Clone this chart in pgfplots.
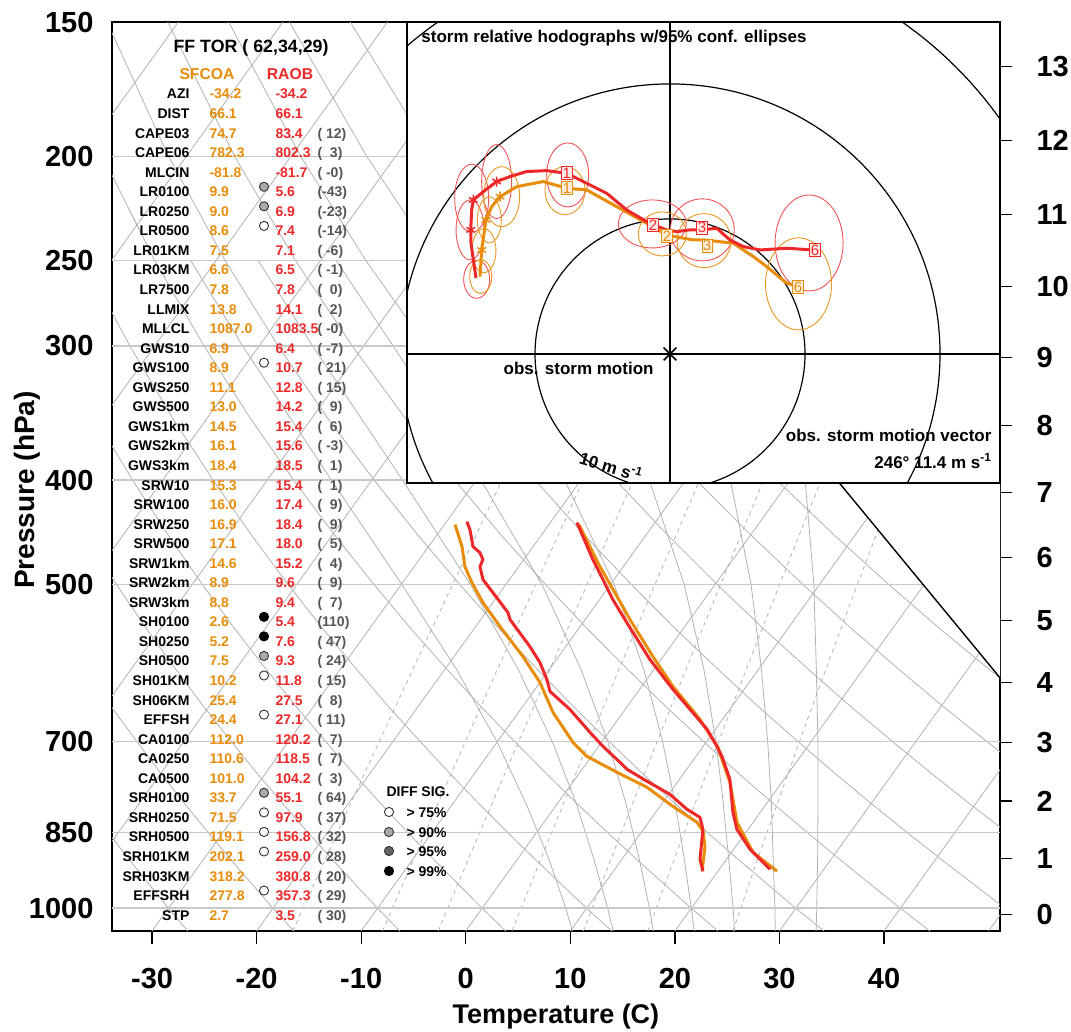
\documentclass[border=0pt]{standalone}
\usepackage{fontspec}
\setmainfont{Liberation Sans}
\usepackage{pgfplots}
\usepackage{pgfplotstable}
\pgfplotsset{compat=1.18}

\definecolor{cor}{RGB}{232,140,10}
\definecolor{cre}{RGB}{238,40,40}
\definecolor{cgr}{RGB}{85,85,85}
\definecolor{glc}{RGB}{178,178,178}
\definecolor{isoc}{RGB}{200,200,200}
\definecolor{g90}{RGB}{170,170,170}
\definecolor{g95}{RGB}{100,100,100}

\newcommand\ticfont{\bfseries\fontsize{29}{29}\selectfont}
\newcommand\labfont{\bfseries\fontsize{27}{27}\selectfont}
\newcommand\tfont{\bfseries\fontsize{14}{14}\selectfont}
\newcommand\hfont{\bfseries\fontsize{17}{17}\selectfont}
\newcommand\nfont{\fontsize{15}{15}\selectfont}

\pgfplotstableread{
p
1050
150
}\ptwo
\pgfplotstableread{
p
1050
1000
950
900
850
800
750
700
650
600
550
500
450
400
350
300
250
200
150
}\plev
\pgfplotstableread{
p
1050
1000
900
800
700
600
500
400
}\pw
\pgfplotstableread{
p    m32   m28   m24    m20    m16    m12    m8
1050 33.5  29.6  25.7   21.85  17.95  14.1   10.2
1000 32    28    24     20     16     12     8
900  28.7  24.45 20.2   15.95  11.65  7.3    3.0
800  24.95 20.5  15.9   11.3   6.6    1.85   -2.95
700  20.65 15.85 10.9   5.8    0.55   -4.75  -10.05
600  15.55 10.3  4.8    -0.95  -6.95  -12.95 -18.85
500  9.45  3.45  -2.95  -9.65  -16.55 -23.4  -29.95
400  1.45  -5.7  -13.45 -21.55 -29.55 -37.05 -43.85
300  -9.9  -19.0 -28.9  -38.5  -47.2  -54.9  -61.6
250  -18.0 -28.7 -39.6  -49.8  -58.5  -65.95 -72.4
}\moist

\pgfplotstableread{
T p
24.85 920.0
21.56 881.4
18.94 844.6
17.39 814.4
14.83 758.9
12.49 722.5
11.33 707.2
9.21 681.9
3.20 626.0
-1.06 587.2
-5.81 542.5
-8.73 516.5
-11.05 494.8
-13.39 474.1
-17.46 438.0
}\raobT
\pgfplotstableread{
T p
25.66 923.9
22.05 887.1
18.46 832.0
15.04 763.8
13.00 731.8
11.49 708.7
7.84 667.5
2.99 622.0
-0.98 583.4
-5.72 539.0
-8.54 513.1
-12.24 481.2
-17.13 439.9
}\sfcT
\pgfplotstableread{
T p
18.58 923.9
17.46 900.5
15.69 844.6
14.58 823.2
12.79 809.2
10.13 783.7
7.04 762.1
4.30 742.8
3.15 731.8
0.43 707.2
-1.78 686.3
-5.28 653.4
-8.42 628.7
-9.54 612.8
-11.38 590.9
-13.43 571.1
-17.19 539.0
-17.87 531.0
-20.68 508.8
-22.53 494.8
-23.71 481.2
-23.91 474.1
-24.67 467.1
-25.75 461.1
-27.21 444.6
-28.05 437.1
}\raobD
\pgfplotstableread{
T p
18.49 923.9
17.05 875.8
15.83 848.2
14.64 832.0
11.24 804.1
7.45 772.0
3.55 747.6
-0.42 722.5
-2.72 701.2
-6.69 657.6
-10.00 616.8
-13.41 583.4
-17.67 547.1
-20.95 519.8
-23.38 498.0
-25.15 481.2
-26.80 461.1
-28.98 439.9
}\sfcD

\newcommand\trow[5]{%
  \node[anchor=base east,yshift=-5pt,font=\tfont] at (axis cs:193,#1) {#2};
  \node[anchor=base west,yshift=-5pt,font=\tfont,text=cor] at (axis cs:206,#1) {#3};
  \node[anchor=base west,yshift=-5pt,font=\tfont,text=cre] at (axis cs:272,#1) {#4};
  \node[anchor=base west,yshift=-5pt,font=\tfont,text=cgr] at (axis cs:314,#1) {#5};
}

\pgfplotsset{
  gl/.style={glc, line width=0.8pt, forget plot},
}

\begin{document}
\begin{tikzpicture}
\useasboundingbox (0pt,0pt) rectangle (1071pt,1032pt);

\begin{axis}[
  at={(112pt,101pt)}, anchor=south west,
  width=888pt, height=909pt, scale only axis,
  xmin=-33.83, xmax=51.09,
  ymode=log, y dir=reverse, ymin=150, ymax=1050,
  xtick={-30,-20,-10,0,10,20,30,40},
  xticklabels={-30,-20,-10,0,10,20,30,40},
  ytick={150,200,250,300,400,500,700,850,1000},
  yticklabels={150,200,250,300,400,500,700,850,1000},
  yminorticks=false, xminorticks=false,
  tick pos=left, tick align=outside,
  major tick length=13pt,
  ytick style={draw=none},
  xtick style={black,line width=1.2pt},
  tick label style={font=\ticfont},
  xticklabel style={yshift=-21pt},
  yticklabel style={xshift=-2pt},
  axis line style={black,line width=1.8pt},
]
\pgfplotsinvokeforeach{-90,-80,...,50}{
  \addplot[gl] table[x expr={#1+32.13*ln(1050/\thisrow{p})}, y=p]{\ptwo};
}
\pgfplotsinvokeforeach{-30,-20,...,170}{
  \addplot[gl] table[x expr={(#1+273.15)*(\thisrow{p}/1000)^0.2857-273.15+32.13*ln(1050/\thisrow{p})}, y=p]{\plev};
}
\pgfplotsinvokeforeach{m8,m12,m16,m20,m24,m28,m32}{
  \addplot[gl] table[x expr={\thisrow{#1}+32.13*ln(1050/\thisrow{p})}, y=p]{\moist};
}
\pgfplotsinvokeforeach{1,2,3,5,8,12,20}{
  \addplot[gl, dash pattern=on 4pt off 4pt] table[x expr={243.5*ln(#1*\thisrow{p}/(622+#1)/6.112)/(17.67-ln(#1*\thisrow{p}/(622+#1)/6.112))+32.13*ln(1050/\thisrow{p})}, y=p]{\pw};
}
\pgfplotsinvokeforeach{1000,850,700,500,400,300,250,200}{
  \addplot[isoc, line width=1.6pt, forget plot] coordinates {(-33.83,#1) (51.09,#1)};
}
\addplot[fill=white, draw=none, forget plot] coordinates {(51.09,610.6) (35.70,402.1) (-0.64,150) (51.09,150) (51.09,610.6)};
\addplot[black, line width=1.4pt, forget plot] coordinates {(51.09,610.6) (35.70,402.1)};
\addplot[cor, line width=3pt, line join=round] table[x expr={\thisrow{T}+32.13*ln(1050/\thisrow{p})}, y=p]{\sfcT};
\addplot[cor, line width=3pt, line join=round] table[x expr={\thisrow{T}+32.13*ln(1050/\thisrow{p})}, y=p]{\sfcD};
\addplot[cre, line width=3pt, line join=round] table[x expr={\thisrow{T}+32.13*ln(1050/\thisrow{p})}, y=p]{\raobT};
\addplot[cre, line width=3pt, line join=round] table[x expr={\thisrow{T}+32.13*ln(1050/\thisrow{p})}, y=p]{\raobD};
\end{axis}

\begin{axis}[
  at={(112pt,101pt)}, anchor=south west,
  width=888pt, height=909pt, scale only axis,
  xmin=0, xmax=1, xtick=\empty,
  ymode=log, y dir=reverse, ymin=150, ymax=1050,
  ytick={1013.25,898.75,794.95,701.09,616.41,540.24,471.82,410.61,355.97,307.42,264.37,226.33,193.31,165.11},
  yticklabels={0,1,2,3,4,5,6,7,8,9,10,11,12,13},
  yminorticks=false,
  ytick pos=right, yticklabel pos=right,
  tick align=outside, major tick length=12pt,
  ytick style={black,line width=1.2pt},
  yticklabel style={font=\ticfont, xshift=21pt},
  axis line style={draw=none},
]
\addplot[draw=none] coordinates {(0.5,500)};
\end{axis}

\begin{axis}[
  at={(407pt,549pt)}, anchor=south west,
  width=593pt, height=461pt, scale only axis,
  xmin=-19.48, xmax=24.44, ymin=-9.56, ymax=24.59,
  axis background/.style={fill=white},
  xtick=\empty, ytick=\empty,
  axis line style={black,line width=1.8pt},
]
\addplot[black, line width=1.2pt] coordinates {(-19.48,0) (24.44,0)};
\addplot[black, line width=1.2pt] coordinates {(0,-9.56) (0,24.59)};
\draw[black, line width=1.2pt] (axis cs:0,0) circle[radius=135pt];
\draw[black, line width=1.2pt] (axis cs:0,0) circle[radius=270pt];
\draw[black, line width=1.2pt] (axis cs:0,0) circle[radius=405pt];
\draw[cre!80, line width=0.9pt] (axis cs:-14.32,5.53) ellipse[x radius=13pt, y radius=19pt];
\draw[cre!80, line width=0.9pt] (axis cs:-14.81,9.19) ellipse[x radius=14pt, y radius=30pt];
\draw[cre!80, line width=0.9pt] (axis cs:-14.69,11.53) ellipse[x radius=17pt, y radius=34pt];
\draw[cre!80, line width=0.9pt] (axis cs:-12.84,12.77) ellipse[x radius=15pt, y radius=37pt];
\draw[cre!80, line width=0.9pt] (axis cs:-7.58,13.26) ellipse[x radius=21pt, y radius=32pt];
\draw[cre!80, line width=0.9pt] (axis cs:-1.31,9.63) ellipse[x radius=34pt, y radius=24pt];
\draw[cre!80, line width=0.9pt] (axis cs:2.39,9.19) ellipse[x radius=32pt, y radius=31pt];
\draw[cre!80, line width=0.9pt] (axis cs:10.30,8.22) ellipse[x radius=34pt, y radius=48pt];
\draw[cor!90, line width=0.9pt] (axis cs:-14.02,5.73) ellipse[x radius=11pt, y radius=17pt];
\draw[cor!90, line width=0.9pt] (axis cs:-13.78,7.65) ellipse[x radius=12pt, y radius=22pt];
\draw[cor!90, line width=0.9pt] (axis cs:-13.38,9.93) ellipse[x radius=12pt, y radius=23pt];
\draw[cor!90, line width=0.9pt] (axis cs:-12.47,11.65) ellipse[x radius=18pt, y radius=30pt];
\draw[cor!90, line width=0.9pt] (axis cs:-7.78,12.10) ellipse[x radius=20pt, y radius=24pt];
\draw[cor!90, line width=0.9pt] (axis cs:-0.57,8.89) ellipse[x radius=24pt, y radius=22pt];
\draw[cor!90, line width=0.9pt] (axis cs:2.52,8.39) ellipse[x radius=27pt, y radius=27pt];
\draw[cor!90, line width=0.9pt] (axis cs:9.52,5.19) ellipse[x radius=33pt, y radius=46pt];
\addplot[cor, line width=3pt, line join=round] coordinates {
(-14.07,5.73) (-13.95,7.70) (-13.63,9.93) (-13.21,10.91) (-12.59,11.65) (-11.36,12.39) (-9.38,12.77) (-7.65,12.27) (-6.17,12.15) (-3.95,10.91) (-1.73,9.68) (-0.25,8.81) (1.73,8.44) (2.59,8.44) (4.69,8.20) (6.17,7.21) (7.16,6.47) (8.64,5.24) (9.51,4.99)};
\addplot[cre, line width=3pt, line join=round] coordinates {
(-14.37,5.61) (-14.74,8.20) (-14.76,9.19) (-14.69,10.67) (-14.57,11.41) (-13.83,12.02) (-12.84,12.77) (-11.85,13.14) (-10.62,13.51) (-9.14,13.58) (-7.65,13.38) (-6.17,12.64) (-4.69,11.90) (-3.21,10.67) (-1.73,9.80) (-1.23,9.56) (-0.25,9.19) (0.49,9.06) (1.48,9.19) (2.35,9.19) (3.46,9.31) (4.44,8.44) (5.43,7.95) (6.67,7.70) (8.64,7.83) (10.62,7.70)};
\addplot[cor, only marks, mark=asterisk, mark size=5pt, mark options={line width=1.5pt}] coordinates {(-13.95,7.70) (-13.63,9.93) (-12.59,11.65)};
\addplot[cre, only marks, mark=asterisk, mark size=5pt, mark options={line width=1.5pt}] coordinates {(-14.76,9.19) (-14.57,11.41) (-12.84,12.77)};
\addplot[black, only marks, mark=x, mark size=9pt, mark options={line width=1.6pt}] coordinates {(0,0)};
\node[draw=cor, fill=cor!15, text=cor, font=\nfont, inner sep=1.2pt] at (axis cs:-7.63,12.30) {1};
\node[draw=cor, fill=cor!15, text=cor, font=\nfont, inner sep=1.2pt] at (axis cs:-0.22,8.74) {2};
\node[draw=cor, fill=cor!15, text=cor, font=\nfont, inner sep=1.2pt] at (axis cs:2.75,8.05) {3};
\node[draw=cor, fill=cor!15, text=cor, font=\nfont, inner sep=1.2pt] at (axis cs:9.48,4.96) {6};
\node[draw=cre, fill=cre!10, text=cre, font=\nfont, inner sep=1.2pt] at (axis cs:-7.65,13.41) {1};
\node[draw=cre, fill=cre!10, text=cre, font=\nfont, inner sep=1.2pt] at (axis cs:-1.26,9.56) {2};
\node[draw=cre, fill=cre!10, text=cre, font=\nfont, inner sep=1.2pt] at (axis cs:2.37,9.35) {3};
\node[draw=cre, fill=cre!10, text=cre, font=\nfont, inner sep=1.2pt] at (axis cs:10.74,7.70) {6};
\node[anchor=west, font=\hfont] at (axis cs:-18.67,23.41) {storm relative hodographs w/95\% conf. ellipses};
\node[anchor=east, font=\hfont] at (axis cs:-0.96,-1.04) {obs. storm motion};
\node[anchor=east, font=\hfont] at (axis cs:24.07,-6.0) {obs. storm motion vector};
\node[anchor=east, font=\hfont] at (axis cs:24.07,-7.93) {246° 11.4 m s\textsuperscript{-1}};
\node[font=\hfont, rotate=-17] at (axis cs:-4.37,-8.30) {10 m s\textsuperscript{-1}};
\end{axis}

\begin{axis}[
  at={(0pt,0pt)}, anchor=south west,
  width=1071pt, height=1032pt, scale only axis,
  xmin=0, xmax=1071, ymin=0, ymax=1032, y dir=reverse,
  hide axis, clip=false,
]
\node[font=\labfont] at (axis cs:556,1017) {Temperature (C)};
\node[font=\bfseries\fontsize{28}{28}\selectfont, rotate=90] at (axis cs:27,490) {Pressure (hPa)};
\node[font=\bfseries\fontsize{17.8}{17.8}\selectfont] at (axis cs:251,48) {FF TOR ( 62,34,29)};
\node[font=\bfseries\fontsize{15.7}{15.7}\selectfont, text=cor] at (axis cs:207,74) {SFCOA};
\node[font=\bfseries\fontsize{15.7}{15.7}\selectfont, text=cre] at (axis cs:290,74) {RAOB};
\trow{94.0}{AZI}{-34.2}{-34.2}{}
\trow{113.55}{DIST}{66.1}{66.1}{}
\trow{133.1}{CAPE03}{74.7}{83.4}{(\ 12)}
\trow{152.65}{CAPE06}{782.3}{802.3}{(\ \ 3)}
\trow{172.2}{MLCIN}{-81.8}{-81.7}{(\ -0)}
\trow{191.75}{LR0100}{9.9}{5.6}{(-43)}
\trow{211.3}{LR0250}{9.0}{6.9}{(-23)}
\trow{230.85}{LR0500}{8.6}{7.4}{(-14)}
\trow{250.4}{LR01KM}{7.5}{7.1}{(\ -6)}
\trow{269.95}{LR03KM}{6.6}{6.5}{(\ -1)}
\trow{289.5}{LR7500}{7.8}{7.8}{(\ \ 0)}
\trow{309.05}{LLMIX}{13.8}{14.1}{(\ \ 2)}
\trow{328.6}{MLLCL}{1087.0}{1083.5}{(\ -0)}
\trow{348.15}{GWS10}{6.9}{6.4}{(\ -7)}
\trow{367.7}{GWS100}{8.9}{10.7}{(\ 21)}
\trow{387.25}{GWS250}{11.1}{12.8}{(\ 15)}
\trow{406.8}{GWS500}{13.0}{14.2}{(\ \ 9)}
\trow{426.35}{GWS1km}{14.5}{15.4}{(\ \ 6)}
\trow{445.9}{GWS2km}{16.1}{15.6}{(\ -3)}
\trow{465.45}{GWS3km}{18.4}{18.5}{(\ \ 1)}
\trow{485.0}{SRW10}{15.3}{15.4}{(\ \ 1)}
\trow{504.55}{SRW100}{16.0}{17.4}{(\ \ 9)}
\trow{524.1}{SRW250}{16.9}{18.4}{(\ \ 9)}
\trow{543.65}{SRW500}{17.1}{18.0}{(\ \ 5)}
\trow{563.2}{SRW1km}{14.6}{15.2}{(\ \ 4)}
\trow{582.75}{SRW2km}{8.9}{9.6}{(\ \ 9)}
\trow{602.3}{SRW3km}{8.8}{9.4}{(\ \ 7)}
\trow{621.85}{SH0100}{2.6}{5.4}{(110)}
\trow{641.4}{SH0250}{5.2}{7.6}{(\ 47)}
\trow{660.95}{SH0500}{7.5}{9.3}{(\ 24)}
\trow{680.5}{SH01KM}{10.2}{11.8}{(\ 15)}
\trow{700.05}{SH06KM}{25.4}{27.5}{(\ \ 8)}
\trow{719.6}{EFFSH}{24.4}{27.1}{(\ 11)}
\trow{739.15}{CA0100}{112.0}{120.2}{(\ \ 7)}
\trow{758.7}{CA0250}{110.6}{118.5}{(\ \ 7)}
\trow{778.25}{CA0500}{101.0}{104.2}{(\ \ 3)}
\trow{797.8}{SRH0100}{33.7}{55.1}{(\ 64)}
\trow{817.35}{SRH0250}{71.5}{97.9}{(\ 37)}
\trow{836.9}{SRH0500}{119.1}{156.8}{(\ 32)}
\trow{856.45}{SRH01KM}{202.1}{259.0}{(\ 28)}
\trow{876.0}{SRH03KM}{318.2}{380.8}{(\ 20)}
\trow{895.55}{EFFSRH}{277.8}{357.3}{(\ 29)}
\trow{915.1}{STP}{2.7}{3.5}{(\ 30)}
\addplot[only marks, mark=*, mark size=4.6pt, mark options={fill=white, draw=black!80, line width=0.9pt}] coordinates {(264,225.85) (264,362.7) (264,675.5) (264,714.6) (264,812.35) (264,831.9) (264,851.45) (264,890.55) (389,812)};
\addplot[only marks, mark=*, mark size=4.6pt, mark options={fill=g90, draw=black!80, line width=0.9pt}] coordinates {(264,186.75) (264,206.3) (264,655.95) (264,792.8) (389,832)};
\addplot[only marks, mark=*, mark size=4.6pt, mark options={fill=g95, draw=black!80, line width=0.9pt}] coordinates {(389,851)};
\addplot[only marks, mark=*, mark size=4.6pt, mark options={fill=black, draw=black, line width=0.9pt}] coordinates {(264,616.85) (264,636.4) (389,871)};
\node[font=\tfont] at (axis cs:418,792) {DIFF SIG.};
\node[anchor=base west, yshift=-5pt, font=\tfont] at (axis cs:403,812) {> 75\%};
\node[anchor=base west, yshift=-5pt, font=\tfont] at (axis cs:403,832) {> 90\%};
\node[anchor=base west, yshift=-5pt, font=\tfont] at (axis cs:403,851) {> 95\%};
\node[anchor=base west, yshift=-5pt, font=\tfont] at (axis cs:403,871) {> 99\%};
\end{axis}
\end{tikzpicture}
\end{document}
